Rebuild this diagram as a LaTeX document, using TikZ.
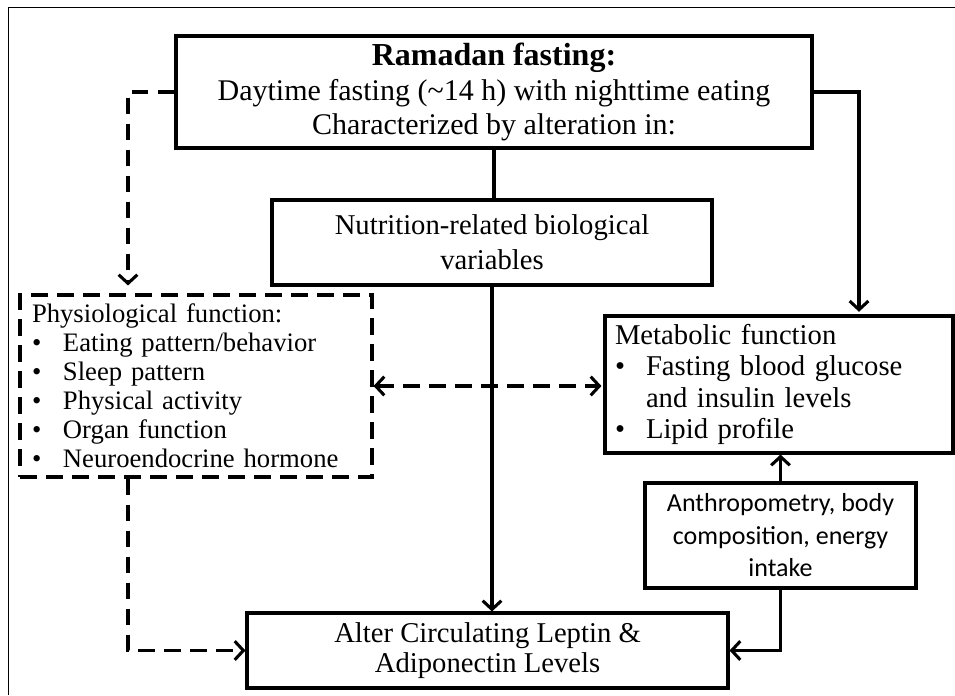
\documentclass[tikz,border=0pt]{standalone}
\usepackage{fontspec}
\setmainfont{Liberation Serif}
\newfontfamily\calibrifont{Carlito}
\usetikzlibrary{arrows.meta}
\newcommand{\itembul}{\makebox[23.25pt][l]{\textbullet}}
\newcommand{\itemgap}{\hspace*{23.25pt}}

\tikzset{
  box/.style={draw, line width=2.3pt, inner xsep=7.5pt, inner ysep=0pt, align=center},
  dashbox/.style={box, dash pattern=on 12.5pt off 7pt},
  listbox/.style={align=left, text width=246pt},
  link/.style={line width=2.3pt},
  dashlink/.style={link, dash pattern=on 12.5pt off 7pt},
  tip/.style={-{Straight Barb[length=6.5pt,width=14pt]}},
  twotips/.style={{Straight Barb[length=6.5pt,width=14pt]}-{Straight Barb[length=6.5pt,width=14pt]}}
}

\begin{document}
\begin{tikzpicture}[x=0.75pt,y=-0.75pt]
    \useasboundingbox (0,0) rectangle (955,695);
    \draw[line width=0.75pt] (8,695) -- (8,8) -- (955,8);

    \node[box, minimum width=477pt, minimum height=84pt,
          font=\fontsize{22.5}{22.5}\selectfont] (ramadan) at (494,92)
        {{\fontsize{24}{22.5}\selectfont\bfseries Ramadan fasting:}\\[4pt]
         Daytime fasting (\textasciitilde14 h) with nighttime eating\\[3pt]
         Characterized by alteration in:};
    \node[box, minimum width=330pt, minimum height=63.75pt,
          font=\fontsize{21.5}{26.25}\selectfont] (nutr) at (492,242.5)
        {Nutrition-related biological\\ variables};
    \node[dashbox, listbox, inner xsep=9pt, minimum height=136.5pt,
          font=\fontsize{20}{21.75}\selectfont] (physio) at (196,386)
        {Physiological function:\\
         \itembul Eating pattern/behavior\\
         \itembul Sleep pattern\\
         \itembul Physical activity\\
         \itembul Organ function\\
         \itembul Neuroendocrine hormone};
    \node[box, listbox, minimum height=102.75pt,
          font=\fontsize{21.5}{23.7}\selectfont] (metab) at (779,384.5)
        {Metabolic function\\
         \itembul Fasting blood glucose\\
         \itemgap and insulin levels\\
         \itembul Lipid profile};
    \node[box, minimum width=203.25pt, minimum height=78.75pt,
          font=\calibrifont\fontsize{19.5}{24.4}\selectfont] (anthro) at (780.5,535.5)
        {Anthropometry, body\\ composition, energy\\ intake};
    \node[box, minimum width=360.75pt, minimum height=56.25pt,
          font=\fontsize{21.5}{22.5}\selectfont] (alter) at (487.5,650.5)
        {Alter Circulating Leptin \&\\ Adiponectin Levels};

    \coordinate (lbus) at (128,650);
    \coordinate (rbus) at (859,88);

    \draw[dashlink, tip, shorten >=6pt] (ramadan.west) -| (lbus |- physio.north);
    \draw[link, tip, shorten >=2pt] (ramadan.east) -| (rbus |- metab.north);
    \draw[link] (ramadan.south) -- (ramadan.south |- nutr.north);
    \draw[link, tip] (nutr.south) -- (nutr.south |- alter.north);
    \draw[dashlink, twotips, shorten >=1.5pt] (physio.east) -- (physio.east -| metab.west);
    \draw[link, tip] (anthro.north) -- (anthro.north |- metab.south);
    \draw[link, tip] (anthro.south) |- (alter.east);
    \draw[dashlink, tip] (lbus |- physio.south) |- (alter.west);
\end{tikzpicture}
\end{document}
